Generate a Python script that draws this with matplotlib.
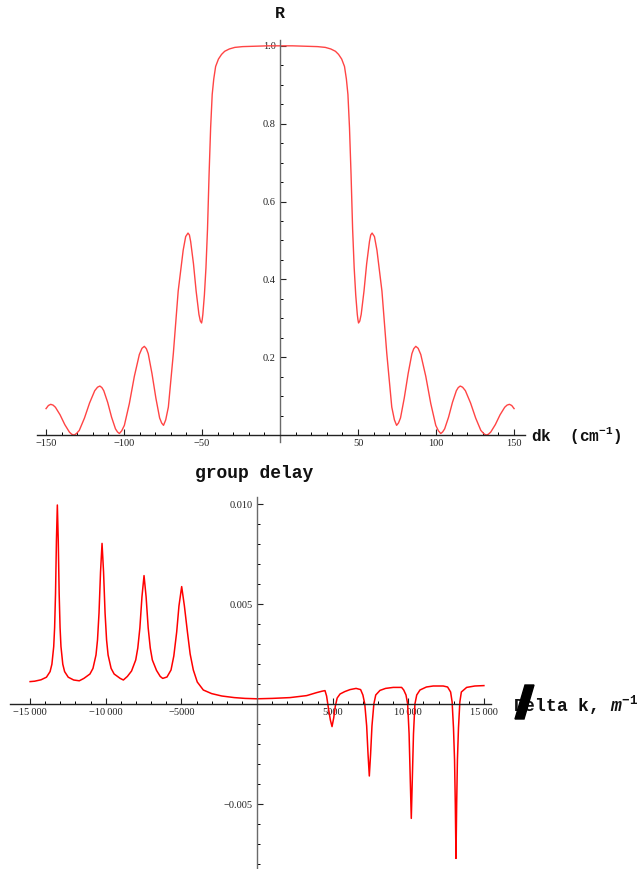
import matplotlib.pyplot as plt
from matplotlib.patches import Polygon
from matplotlib.ticker import FixedLocator, FixedFormatter

plt.rcParams['mathtext.fontset'] = 'custom'
plt.rcParams['mathtext.rm'] = 'Liberation Mono:bold'
plt.rcParams['mathtext.it'] = 'Liberation Mono:italic:bold'

# reflectivity R vs dk (cm^-1)
dk = [-150, -148.5, -147, -145.5, -144, -141, -138, -135, -133.5, -132, -130.5, -128.7,
      -125.4, -122.1, -118.8, -117, -115.5, -114.2, -113, -110.5, -108, -105.5, -104.2,
      -103, -101.5, -99.8, -96.6, -93.4, -90.2, -88.5, -87, -85.7, -84.5, -82.1, -79.6,
      -77.2, -75.9, -74.7, -73.3, -71.6, -68.4, -65.3, -62.1, -60.5, -59, -58.1, -57.3,
      -55.5, -53.8, -52, -51.1, -50.3, -49.9, -49.5, -48.5, -47.5, -46.5, -45.5, -44.5,
      -43.5, -42.5, -41.3, -39.5, -37.5, -35.5, -32.5, -29, -24, -16, -8, 0,
      8, 16, 24, 29, 32.5, 35.5, 37.5, 39.5, 41.3, 42.5, 43.5, 44.5, 45.5, 46.5, 47.5,
      48.5, 49.5, 49.9, 50.3, 51.1, 52, 53.8, 55.5, 57.3, 58.1, 59, 60.5, 62.1, 65.3,
      68.4, 71.6, 73.3, 74.7, 75.9, 77.2, 79.6, 82.1, 84.5, 85.7, 87, 88.5, 90.2, 93.4,
      96.6, 99.8, 101.5, 103, 104.2, 105.5, 108, 110.5, 113, 114.2, 115.5, 117, 118.8,
      122.1, 125.4, 128.7, 130.5, 132, 133.5, 135, 138, 141, 144, 145.5, 147, 148.5, 150]
refl = [0.068, 0.076, 0.079, 0.077, 0.0715, 0.052, 0.027, 0.0075, 0.002, 0.0, 0.004, 0.012,
        0.0435, 0.0825, 0.114, 0.123, 0.126, 0.122, 0.114, 0.084, 0.046, 0.016, 0.008,
        0.004, 0.011, 0.025, 0.081, 0.151, 0.207, 0.223, 0.228, 0.222, 0.209, 0.158, 0.095,
        0.044, 0.031, 0.025, 0.039, 0.072, 0.21, 0.37, 0.475, 0.510, 0.519, 0.514, 0.497,
        0.44, 0.37, 0.31, 0.293, 0.288, 0.297, 0.31, 0.36, 0.43, 0.53, 0.67, 0.79,
        0.875, 0.915, 0.947, 0.966, 0.978, 0.986, 0.992, 0.996, 0.998, 0.999, 1.0, 1.0,
        1.0, 0.999, 0.998, 0.996, 0.992, 0.986, 0.978, 0.966, 0.947, 0.915, 0.875, 0.79,
        0.67, 0.53, 0.43, 0.36, 0.31, 0.297, 0.288, 0.293, 0.31, 0.37, 0.44, 0.497, 0.514,
        0.519, 0.510, 0.475, 0.37, 0.21, 0.072, 0.039, 0.025, 0.031, 0.044, 0.095, 0.158,
        0.209, 0.222, 0.228, 0.223, 0.207, 0.151, 0.081, 0.025, 0.011, 0.004, 0.008, 0.016,
        0.046, 0.084, 0.114, 0.122, 0.126, 0.123, 0.114, 0.0825, 0.0435, 0.012, 0.004, 0.0,
        0.002, 0.0075, 0.027, 0.052, 0.0715, 0.077, 0.079, 0.076, 0.068]

# group delay vs Delta k (m^-1)
delta_k = [-15000, -14700, -14280, -13920, -13680, -13560, -13440, -13380, -13320, -13260,
           -13200, -13140, -13080, -13020, -12960, -12840, -12720, -12480, -12120, -11750,
           -11445, -11045, -10845, -10645, -10545, -10445, -10345, -10245, -10145, -10045,
           -9945, -9845, -9645, -9445, -9045, -8835, -8569, -8294, -8019, -7881, -7744,
           -7606, -7469, -7332, -7194, -7057, -6919, -6644, -6400, -6235, -5950, -5685,
           -5500, -5310, -5160, -4980, -4800, -4600, -4420, -4210, -3950, -3550, -3000,
           -2330, -1500, -790, 0, 1000, 2180, 3285, 3946, 4300, 4495, 4600, 4720, 4850,
           4960, 5070, 5180, 5300, 5490, 5800, 6150, 6550, 6850, 7000, 7125, 7250, 7340,
           7425, 7510, 7600, 7725, 7850, 8130, 8500, 9010, 9560, 9700, 9850, 9960, 10055,
           10130, 10200, 10270, 10345, 10440, 10560, 10775, 11200, 11650, 12310, 12600,
           12800, 12900, 12990, 13060, 13110, 13155, 13200, 13250, 13320, 13410, 13510,
           13860, 14400, 15000]
group_delay = [0.00112, 0.00114, 0.00121, 0.00134, 0.00162, 0.00199, 0.00287, 0.00382, 0.00553,
               0.00818, 0.00995, 0.00818, 0.00553, 0.00382, 0.00287, 0.00199, 0.00162, 0.00134,
               0.0012, 0.00116, 0.00128, 0.0015, 0.00178, 0.00245, 0.0032, 0.00455, 0.0066,
               0.00803, 0.0066, 0.00455, 0.0032, 0.00245, 0.00178, 0.0015, 0.00128, 0.0012,
               0.00138, 0.00165, 0.0022, 0.0028, 0.0038, 0.00536, 0.00642, 0.00536, 0.0038,
               0.0028, 0.0022, 0.00168, 0.00138, 0.00128, 0.00135, 0.0017, 0.0024, 0.0036,
               0.0049, 0.00587, 0.0049, 0.0036, 0.0025, 0.0017, 0.0011, 0.0007, 0.00052,
               0.0004, 0.00032, 0.00028, 0.00026, 0.00028, 0.00032, 0.00042, 0.00057, 0.00064,
               0.00067, 0.0004, -0.0002, -0.0008, -0.00113, -0.0007, -0.0001, 0.0003, 0.0005,
               0.00062, 0.00072, 0.00078, 0.00072, 0.00045, 0.0, -0.0011, -0.0025, -0.0036,
               -0.0025, -0.0011, 0.0, 0.00045, 0.00068, 0.00078, 0.00083, 0.00083, 0.0007,
               0.00045, 0.0, -0.0015, -0.0037, -0.00572, -0.0037, -0.0015, 0.0, 0.00045,
               0.0007, 0.00085, 0.0009, 0.0009, 0.00085, 0.0006, 0.0001, -0.0012, -0.0028,
               -0.005, -0.00772, -0.005, -0.0028, -0.0012, 0.0001, 0.0006, 0.00083, 0.0009,
               0.00092]

top_xticks = [-150, -100, -50, 50, 100, 150]
top_yticks = [0.2, 0.4, 0.6, 0.8, 1.0]
bot_xticks = [-15000, -10000, -5000, 5000, 10000, 15000]
bot_xlabels = ['\u221215\u2009000', '\u221210\u2009000', '\u22125000', '5000', '10\u2009000', '15\u2009000']
bot_yticks = [-0.005, 0.005, 0.010]
bot_ylabels = ['\u22120.005', '0.005', '0.010']

W, H = 643, 869
fig = plt.figure(figsize=(W / 100, H / 100), dpi=100)


def style_axes(ax):
    for s in ['top', 'right']:
        ax.spines[s].set_visible(False)
    ax.spines['left'].set_position(('data', 0))
    ax.spines['bottom'].set_position(('data', 0))
    ax.spines['left'].set_color('#6a6a6a')
    ax.spines['bottom'].set_color('#222222')
    ax.spines['left'].set_linewidth(1.0)
    ax.spines['bottom'].set_linewidth(1.0)
    ax.tick_params(which='major', direction='in', length=4, width=0.8, pad=3,
                   labelsize=7.5, colors='#222222')
    ax.tick_params(which='minor', direction='in', length=2.5, width=0.7)
    for lab in ax.get_xticklabels() + ax.get_yticklabels():
        lab.set_family('Liberation Serif')
    ax.patch.set_visible(False)


# top: reflectivity
ax1 = fig.add_axes([37 / W, 1 - 441.7 / H, 488 / W, 401.7 / H])
ax1.plot(dk, refl, color='#ff4444', lw=1.0)
ax1.set_xlim(-155.8, 157)
ax1.set_ylim(-0.017, 1.015)
ax1.xaxis.set_major_locator(FixedLocator(top_xticks))
ax1.xaxis.set_major_formatter(FixedFormatter([str(v).replace('-', '\u2212') for v in top_xticks]))
ax1.xaxis.set_minor_locator(FixedLocator([v for v in range(-150, 151, 10) if v % 50 != 0]))
ax1.yaxis.set_major_locator(FixedLocator(top_yticks))
ax1.yaxis.set_major_formatter(FixedFormatter(['%.1f' % v for v in top_yticks]))
ax1.yaxis.set_minor_locator(FixedLocator([i * 0.05 for i in range(1, 21) if i % 4 != 0]))
style_axes(ax1)

# bottom: group delay
ax2 = fig.add_axes([10 / W, 0, 481 / W, 372 / H])
ax2.plot(delta_k, group_delay, color='#ff0000', lw=1.1)
ax2.set_xlim(-16330, 15470)
ax2.set_ylim(-0.00825, 0.01035)
ax2.xaxis.set_major_locator(FixedLocator(bot_xticks))
ax2.xaxis.set_major_formatter(FixedFormatter(bot_xlabels))
ax2.xaxis.set_minor_locator(FixedLocator([v for v in range(-15000, 15001, 1000) if v % 5000 != 0]))
ax2.yaxis.set_major_locator(FixedLocator(bot_yticks))
ax2.yaxis.set_major_formatter(FixedFormatter(bot_ylabels))
ax2.yaxis.set_minor_locator(FixedLocator([i * 0.001 for i in range(-8, 11) if i % 5 != 0]))
style_axes(ax2)

mono = dict(family='Liberation Mono', weight='bold', color='#111111')
fig.text(280 / W, 1 - 14 / H, 'R', ha='center', va='center', fontsize=12, **mono)
fig.text(531 / W, 1 - 436 / H, 'dk  (cm$^{-1}$)', ha='left', va='center', fontsize=11.5, **mono)
fig.text(195 / W, 1 - 478 / H, 'group delay', ha='left', va='baseline', fontsize=13, **mono)
fig.text(513 / W, 1 - 711 / H, 'Delta k, $m^{-1}$', ha='left', va='baseline', fontsize=13, **mono)

# black glitch over the "D"
pts = [(525, 685), (534, 685), (524, 719), (515, 719)]
fig.patches.append(Polygon([(x / W, 1 - y / H) for x, y in pts], closed=True,
                           transform=fig.transFigure, color='black', zorder=5))

fig.savefig('out.png', dpi=100)
